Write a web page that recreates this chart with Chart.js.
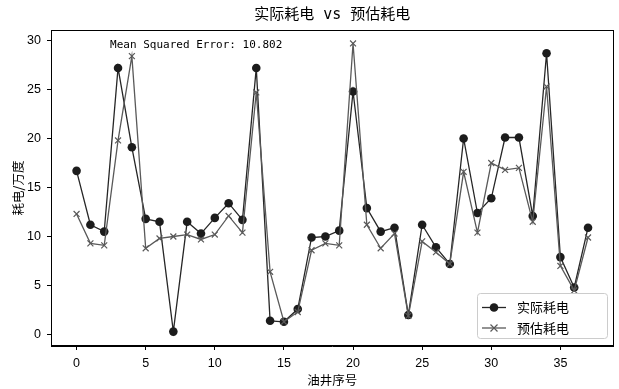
<!DOCTYPE html>
<html>
<head>
<meta charset="utf-8">
<script src="https://cdn.jsdelivr.net/npm/chart.js@4"></script>
<style>
  html, body { margin: 0; padding: 0; background: #fff; }
  #wrap { width: 619px; height: 389px; }
</style>
</head>
<body>
<div id="wrap"><canvas id="myChart" width="619" height="389"></canvas></div>
<script>
// well index (x axis)
const wellIdx = [0,1,2,3,4,5,6,7,8,9,10,11,12,13,14,15,16,17,18,19,20,21,22,23,24,25,26,27,28,29,30,31,32,33,34,35,36,37];
// actual power use
const actual = [16.7,11.2,10.5,27.2,19.1,11.8,11.5,0.3,11.5,10.3,
                11.9,13.4,11.7,27.2,1.4,1.3,2.6,9.9,10.0,10.6,
                24.8,12.9,10.5,10.9,2.0,11.2,8.9,7.2,20.0,12.4,
                13.9,20.1,20.1,12.1,28.7,7.9,4.8,10.9];
// predicted power use
const predicted = [12.3,9.3,9.1,19.8,28.4,8.8,9.8,10.0,10.2,9.7,
                   10.2,12.1,10.4,24.7,6.4,1.3,2.3,8.6,9.3,9.1,
                   29.7,11.2,8.8,10.3,1.9,9.5,8.4,7.2,16.6,10.4,
                   17.5,16.8,17.0,11.5,25.3,7.0,4.5,9.9];
const seriesNames = ["实际耗电", "预估耗电"];
const xTicks = [0,5,10,15,20,25,30,35];
const yTicks = [0,5,10,15,20,25,30];
const titleText = "实际耗电 vs 预估耗电";
const mseText = "Mean Squared Error: 10.802";
const xLabel = "油井序号";
const yLabel = "耗电/万度";

const cjk = "'DejaVu Sans Mono', 'Noto Sans CJK SC', sans-serif";

function pts(arr) {
    var out = [];
    for (var i = 0; i < wellIdx.length; i++) {
        out.push({x: wellIdx[i], y: arr[i]});
    }
    return out;
}

// frame, title, mse note and legend
const extras = {
    id: 'extras',
    afterDraw(chart) {
        const ctx = chart.ctx;
        const a = chart.chartArea;
        ctx.save();
        ctx.strokeStyle = '#000';
        ctx.lineWidth = 1;
        ctx.strokeRect(Math.round(a.left) + 0.5, Math.round(a.top) + 0.5,
                       Math.round(a.right - a.left) - 1, Math.round(a.bottom - a.top) - 1);

        ctx.fillStyle = '#000';
        ctx.textAlign = 'center';
        ctx.textBaseline = 'middle';
        ctx.font = "15px " + cjk;
        ctx.fillText(titleText, (a.left + a.right) / 2, 15);

        ctx.textAlign = 'left';
        ctx.font = "11px 'DejaVu Sans Mono', monospace";
        ctx.fillText(mseText, a.left + 0.105 * (a.right - a.left), a.top + 15);

        // legend box
        const bx = 477, by = 293, bw = 130, bh = 45;
        ctx.beginPath();
        ctx.roundRect(bx + 0.5, by + 0.5, bw, bh, 3);
        ctx.fillStyle = 'rgba(255,255,255,0.85)';
        ctx.fill();
        ctx.strokeStyle = '#cccccc';
        ctx.stroke();

        const rows = [by + 14.5, by + 35];
        chart.data.datasets.forEach(function (ds, i) {
            const y = rows[i];
            ctx.strokeStyle = ds.borderColor;
            ctx.lineWidth = 1.3;
            ctx.beginPath();
            ctx.moveTo(bx + 5, y);
            ctx.lineTo(bx + 29, y);
            ctx.stroke();
            if (ds.pointStyle === 'circle') {
                ctx.fillStyle = ds.pointBackgroundColor;
                ctx.beginPath();
                ctx.arc(bx + 17, y, 4.3, 0, Math.PI * 2);
                ctx.fill();
            } else {
                ctx.lineWidth = 1.2;
                ctx.beginPath();
                ctx.moveTo(bx + 13.5, y - 3.5); ctx.lineTo(bx + 20.5, y + 3.5);
                ctx.moveTo(bx + 13.5, y + 3.5); ctx.lineTo(bx + 20.5, y - 3.5);
                ctx.stroke();
            }
            ctx.fillStyle = '#000';
            ctx.font = "13px 'Noto Sans CJK SC', sans-serif";
            ctx.textBaseline = 'middle';
            ctx.fillText(ds.label, bx + 40, y);
        });
        ctx.restore();
    }
};

const tickFont = {family: "'Liberation Sans Narrow', 'Liberation Sans', Arial, sans-serif", size: 12.5};

new Chart(document.getElementById('myChart'), {
    type: 'line',
    data: {
        datasets: [
            {
                label: seriesNames[0],
                data: pts(actual),
                borderColor: '#262626',
                borderWidth: 1.3,
                pointStyle: 'circle',
                pointRadius: 4.3,
                pointBackgroundColor: '#1c1c1c',
                pointBorderColor: '#1c1c1c',
                pointBorderWidth: 0,
                tension: 0,
                order: 1
            },
            {
                label: seriesNames[1],
                data: pts(predicted),
                borderColor: '#595959',
                borderWidth: 1.3,
                pointStyle: 'crossRot',
                pointRadius: 4.2,
                pointBorderColor: '#595959',
                pointBorderWidth: 1.2,
                tension: 0,
                order: 0
            }
        ]
    },
    options: {
        responsive: false,
        animation: false,
        devicePixelRatio: 1,
        layout: {padding: {top: 30, right: 2, left: 0, bottom: 0}},
        plugins: {
            legend: {display: false},
            tooltip: {enabled: false},
            title: {display: false}
        },
        scales: {
            x: {
                type: 'linear',
                min: -1.85,
                max: 38.85,
                afterBuildTicks: function (s) { s.ticks = xTicks.map(v => ({value: v})); },
                afterFit: function (s) { s.height = 43; },
                grid: {drawOnChartArea: false, drawTicks: true, tickLength: 4, color: '#000'},
                border: {display: true, color: '#000', width: 1},
                ticks: {color: '#000', font: tickFont, padding: 6, maxRotation: 0},
                title: {display: true, text: xLabel, color: '#000',
                        font: {family: "'Noto Sans CJK SC', sans-serif", size: 12.5},
                        padding: {top: 0, bottom: 1}}
            },
            y: {
                type: 'linear',
                min: -1.17,
                max: 31.07,
                afterBuildTicks: function (s) { s.ticks = yTicks.map(v => ({value: v})); },
                afterFit: function (s) { s.width = 51; },
                grid: {drawOnChartArea: false, drawTicks: true, tickLength: 4, color: '#000'},
                border: {display: true, color: '#000', width: 1},
                ticks: {color: '#000', font: tickFont, padding: 6},
                title: {display: true, text: yLabel, color: '#000',
                        font: {family: "'Noto Sans CJK SC', sans-serif", size: 12.5},
                        padding: {top: 11, bottom: 0}}
            }
        }
    },
    plugins: [extras]
});
</script>
</body>
</html>
